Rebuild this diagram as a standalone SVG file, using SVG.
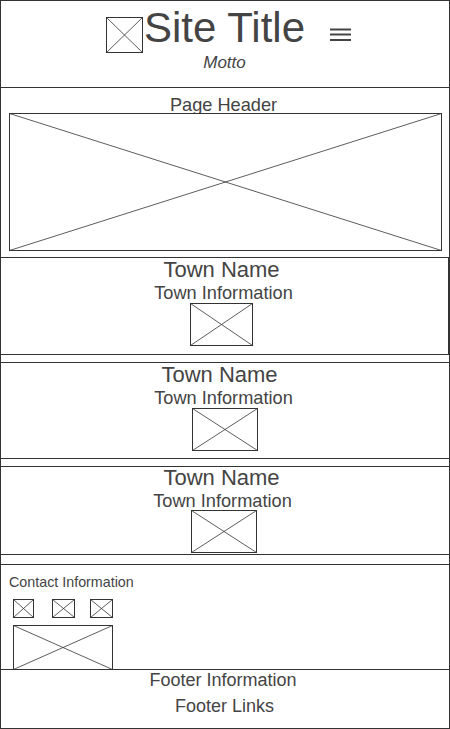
<svg xmlns="http://www.w3.org/2000/svg" width="450" height="729" viewBox="0 0 450 729">
<style>
.box{fill:#ffffff;stroke:#333333;stroke-width:1}
.img{fill:#ffffff;stroke:#333333;stroke-width:1}
.x{stroke:#333333;stroke-width:0.8;fill:none}
.t{font-family:"Liberation Sans",Arial,sans-serif;fill:#444444;text-anchor:middle}
</style>
<rect x="0" y="0" width="450" height="729" fill="#ffffff"/>
<g id="page">
<rect class="box" x="0.5" y="0.5" width="449" height="728"/>
</g>
<g id="header">
<rect class="box" x="0.5" y="0.5" width="449" height="87"/>
<g id="logo">
<rect class="img" x="106.5" y="17.5" width="36" height="35"/>
<path class="x" d="M106.5 17.5L142.5 52.5M142.5 17.5L106.5 52.5"/>
</g>
<text class="t" x="224.5" y="42" font-size="42">Site Title</text>
<text class="t" x="224.5" y="68" font-size="17" font-style="italic">Motto</text>
<g id="menu" stroke="#444444" stroke-width="2">
<line x1="330" y1="29.5" x2="351" y2="29.5"/>
<line x1="330" y1="34.5" x2="351" y2="34.5"/>
<line x1="330" y1="40" x2="351" y2="40"/>
</g>
</g>
<g id="page-header">
<rect class="box" x="0.5" y="87.5" width="449" height="170"/>
<text class="t" x="223.5" y="111" font-size="18.2">Page Header</text>
<rect class="img" x="9.5" y="113.5" width="432" height="137"/>
<path class="x" d="M9.5 113.5L441.5 250.5M441.5 113.5L9.5 250.5"/>
</g>
<g id="town1">
<rect class="box" x="0.5" y="257.5" width="448" height="97"/>
<text class="t" x="221.5" y="277" font-size="22">Town Name</text>
<text class="t" x="223.5" y="299" font-size="18.2">Town Information</text>
<rect class="img" x="190.5" y="303.5" width="62" height="42"/>
<path class="x" d="M190.5 303.5L252.5 345.5M252.5 303.5L190.5 345.5"/>
</g>
<g id="town2">
<rect class="box" x="0.5" y="362.5" width="449" height="96"/>
<text class="t" x="219.5" y="382" font-size="22">Town Name</text>
<text class="t" x="223.5" y="404" font-size="18.2">Town Information</text>
<rect class="img" x="192.5" y="408.5" width="65" height="42"/>
<path class="x" d="M192.5 408.5L257.5 450.5M257.5 408.5L192.5 450.5"/>
</g>
<g id="town3">
<rect class="box" x="0.5" y="466.5" width="449" height="88"/>
<text class="t" x="221.5" y="485" font-size="22">Town Name</text>
<text class="t" x="222.5" y="507" font-size="18.2">Town Information</text>
<rect class="img" x="191.5" y="510.5" width="65" height="42"/>
<path class="x" d="M191.5 510.5L256.5 552.5M256.5 510.5L191.5 552.5"/>
</g>
<g id="contact">
<rect class="box" x="0.5" y="564.5" width="449" height="105"/>
<text class="t" x="9" y="587" font-size="14.3" style="text-anchor:start">Contact Information</text>
<rect class="img" x="13.5" y="599.5" width="20" height="18"/>
<path class="x" d="M13.5 599.5L33.5 617.5M33.5 599.5L13.5 617.5"/>
<rect class="img" x="52.5" y="599.5" width="22" height="18"/>
<path class="x" d="M52.5 599.5L74.5 617.5M74.5 599.5L52.5 617.5"/>
<rect class="img" x="90.5" y="599.5" width="22" height="18"/>
<path class="x" d="M90.5 599.5L112.5 617.5M112.5 599.5L90.5 617.5"/>
<rect class="img" x="13.5" y="625.5" width="99" height="44"/>
<path class="x" d="M13.5 625.5L112.5 669.5M112.5 625.5L13.5 669.5"/>
</g>
<g id="footer">
<rect class="box" x="0.5" y="669.5" width="449" height="59"/>
<text class="t" x="223" y="686" font-size="18">Footer Information</text>
<text class="t" x="224.5" y="712" font-size="18">Footer Links</text>
</g>
</svg>
